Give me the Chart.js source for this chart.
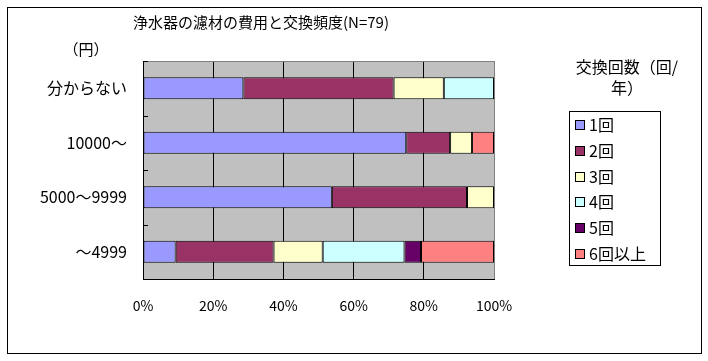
<!DOCTYPE html>
<html>
<head>
<meta charset="utf-8">
<script src="https://cdn.jsdelivr.net/npm/chart.js@4.4.0/dist/chart.umd.min.js"></script>
<style>
  html, body { margin: 0; padding: 0; background: #fff; }
  #wrap { width: 708px; height: 361px; position: relative; }
</style>
</head>
<body>
<div id="wrap"><canvas id="chart" width="708" height="361"></canvas></div>
<script>
// --- data (share of answers, %) ---
const categories = ['分からない', '10000～', '5000～9999', '～4999'];
const seriesNames = ['1回', '2回', '3回', '4回', '5回', '6回以上'];
const once    = [28.6, 75.0, 53.8, 9.3];
const twice   = [42.8, 12.5, 38.5, 27.9];
const thrice  = [14.3, 6.25, 7.7, 14.0];
const four    = [14.3, null, null, 23.3];
const five    = [null, null, null, 4.7];
const sixPlus = [null, 6.25, null, 20.8];
const xTicks  = [0, 20, 40, 60, 80, 100];

const seriesColors = ['#9999FF', '#993366', '#FFFFCC', '#CCFFFF', '#660066', '#FF8080'];
const FONT = '"Noto Sans CJK JP", "Noto Sans", sans-serif';

const datasets = [once, twice, thrice, four, five, sixPlus].map((values, i) => ({
    label: seriesNames[i],
    data: values,
    backgroundColor: seriesColors[i],
    borderColor: '#000',
    borderWidth: 1,
    borderSkipped: false,
    barPercentage: 0.4,
    categoryPercentage: 1
}));

// background, plot border, title, unit label and the boxed legend
const decorations = {
    id: 'decorations',
    beforeDraw(chart) {
        const { ctx, chartArea: a } = chart;
        ctx.save();
        ctx.fillStyle = '#fff';
        ctx.fillRect(0, 0, chart.width, chart.height);
        ctx.fillStyle = '#C0C0C0';
        ctx.fillRect(a.left, a.top, a.right - a.left, a.bottom - a.top);
        ctx.restore();
    },
    beforeDatasetsDraw(chart) {
        const { ctx, chartArea: a } = chart;
        ctx.save();
        ctx.strokeStyle = '#808080';
        ctx.lineWidth = 1;
        ctx.beginPath();
        ctx.moveTo(a.left, Math.round(a.top) + 0.5);
        ctx.lineTo(Math.round(a.right) + 0.5, Math.round(a.top) + 0.5);
        ctx.lineTo(Math.round(a.right) + 0.5, a.bottom);
        ctx.stroke();
        // small inside tick marks on the category axis
        ctx.strokeStyle = '#000';
        const band = (a.bottom - a.top) / categories.length;
        ctx.beginPath();
        for (let i = 0; i < categories.length; i++) {
            const y = Math.round(a.top + i * band) + 0.5;
            ctx.moveTo(a.left, y);
            ctx.lineTo(a.left + 5, y);
        }
        ctx.stroke();
        ctx.restore();
    },
    afterDraw(chart) {
        const { ctx } = chart;
        ctx.save();
        // outer frame
        ctx.strokeStyle = '#000';
        ctx.lineWidth = 1;
        ctx.strokeRect(7.5, 7.5, 694, 346);

        ctx.fillStyle = '#000';
        ctx.textBaseline = 'middle';
        ctx.textAlign = 'center';
        ctx.font = '15px ' + FONT;
        ctx.fillText('浄水器の濾材の費用と交換頻度(N=79)', 261, 22);
        ctx.fillText('（円）', 86, 49);

        // legend title
        ctx.font = '16px ' + FONT;
        ctx.fillText('交換回数（回/', 627, 67);
        ctx.fillText('年）', 627, 88);

        // legend box
        ctx.strokeRect(569.5, 111.5, 91, 154);
        ctx.textAlign = 'left';
        chart.data.datasets.forEach((ds, i) => {
            const y = 125 + i * 25.8;
            ctx.fillStyle = ds.backgroundColor;
            ctx.fillRect(575, Math.round(y) - 5, 10, 10);
            ctx.strokeStyle = '#000';
            ctx.strokeRect(575.5, Math.round(y) - 4.5, 9, 9);
            ctx.fillStyle = '#000';
            ctx.fillText(ds.label, 589, y);
        });
        ctx.restore();
    }
};

new Chart(document.getElementById('chart'), {
    type: 'bar',
    data: { labels: categories, datasets: datasets },
    options: {
        indexAxis: 'y',
        responsive: false,
        animation: false,
        layout: { padding: { left: 0, top: 61, right: 214, bottom: 0 } },
        scales: {
            x: {
                stacked: true,
                min: 0,
                max: 100,
                afterBuildTicks: scale => { scale.ticks = xTicks.map(v => ({ value: v })); },
                afterFit: scale => { scale.height = 82; },
                ticks: {
                    color: '#000',
                    font: { family: FONT, size: 14 },
                    padding: 18,
                    callback: v => v + '%'
                },
                grid: {
                    color: ctx => (ctx.tick && ctx.tick.value === 100) ? '#808080' : '#000',
                    lineWidth: 1,
                    drawTicks: false
                },
                border: { color: '#000', width: 1 }
            },
            y: {
                stacked: true,
                afterFit: scale => { scale.width = 143; },
                ticks: {
                    color: '#000',
                    font: { family: FONT, size: 16 },
                    padding: 16
                },
                grid: { display: false, drawTicks: false },
                border: { color: '#000', width: 1 }
            }
        },
        plugins: {
            legend: { display: false },
            title: { display: false },
            tooltip: { enabled: false }
        }
    },
    plugins: [decorations]
});
</script>
</body>
</html>
